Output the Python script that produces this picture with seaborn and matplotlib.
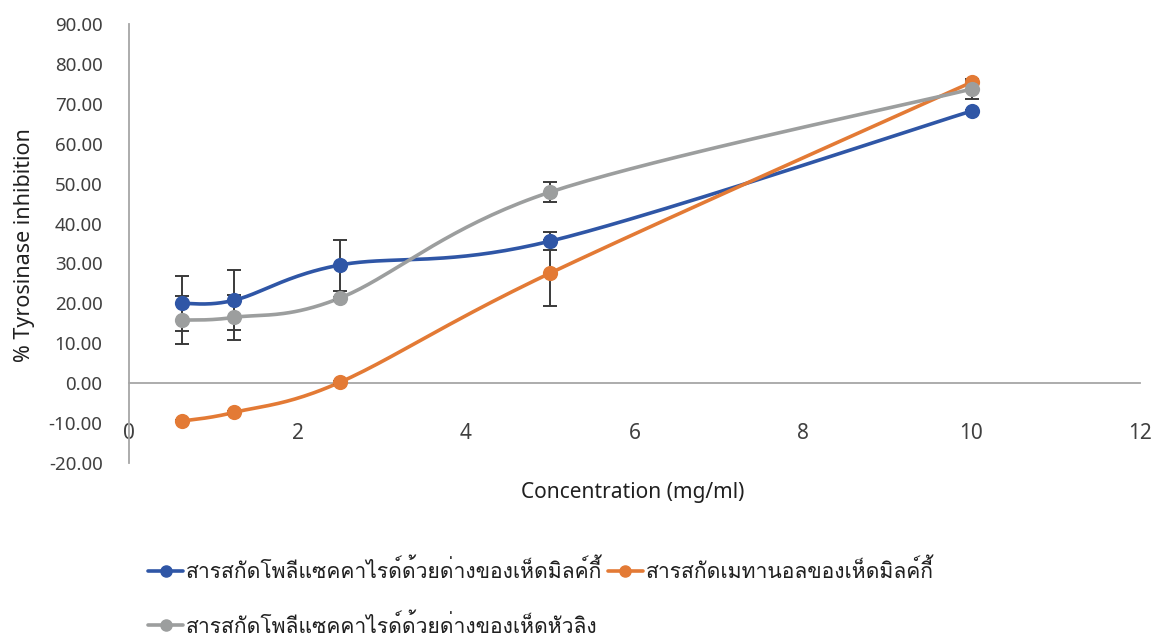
import numpy as np
import pandas as pd
import matplotlib
matplotlib.use("Agg")
import matplotlib.pyplot as plt
import seaborn as sns
from matplotlib import font_manager, ft2font
from matplotlib.lines import Line2D

# ---- data -------------------------------------------------------------
conc = [0.625, 1.25, 2.5, 5, 10]

milky_poly = [20.0, 20.8, 29.6, 35.6, 68.2]
milky_poly_err = [6.8, 7.5, 6.4, 2.3, 0.3]

milky_meoh = [-9.5, -7.3, 0.2, 27.6, 75.4]
milky_meoh_err = [0.3, 0.3, 0.3, 8.2, 0.3]

split_poly = [15.8, 16.5, 21.3, 47.9, 73.7]
split_poly_err = [6.0, 5.7, 0.4, 2.4, 2.4]

series_names = [
    "สารสกัดโพลีแซคคาไรด์ด้วยด่างของเห็ดมิลค์กี้",
    "สารสกัดเมทานอลของเห็ดมิลค์กี้",
    "สารสกัดโพลีแซคคาไรด์ด้วยด่างของเห็ดหัวลิง",
]
series_colors = ["#2F56A6", "#E37A35", "#9C9E9E"]

x_ticks = [0, 2, 4, 6, 8, 10, 12]
y_ticks = [-20, -10, 0, 10, 20, 30, 40, 50, 60, 70, 80, 90]
x_title = "Concentration (mg/ml)"
y_title = "% Tyrosinase inhibition"


# ---- helpers ----------------------------------------------------------
def thai_family():
    """Return the first installed family that carries Thai glyphs."""
    for f in font_manager.fontManager.ttflist:
        try:
            cmap = ft2font.FT2Font(f.fname).get_charmap()
        except Exception:
            continue
        if 0x0E2A in cmap and 0x0E49 in cmap and 0x0E35 in cmap:
            return f.name
    return None


def smooth_curve(xs, ys, n=40):
    """Parametric Catmull-Rom (Bezier) smoothing through the data points."""
    pts = np.column_stack([xs, ys]).astype(float)
    padded = np.vstack([pts[0], pts, pts[-1]])
    out = []
    t = np.linspace(0, 1, n)[:, None]
    for i in range(len(pts) - 1):
        p0, p1, p2, p3 = padded[i], padded[i + 1], padded[i + 2], padded[i + 3]
        c1 = p1 + (p2 - p0) / 6.0
        c2 = p2 - (p3 - p1) / 6.0
        seg = ((1 - t) ** 3) * p1 + 3 * ((1 - t) ** 2) * t * c1 \
            + 3 * (1 - t) * t ** 2 * c2 + t ** 3 * p2
        out.append(seg if i == 0 else seg[1:])
    out = np.vstack(out)
    return out[:, 0], out[:, 1]


# ---- style ------------------------------------------------------------
sns.set_theme(style="white")
thai = thai_family()
base_family = ["Noto Sans", "DejaVu Sans"]
plt.rcParams["font.family"] = base_family
legend_family = ([thai] if thai else []) + base_family
axis_grey = "#A6A6A6"
text_grey = "#404040"

fig = plt.figure(figsize=(11.56, 6.39), dpi=100)
ax = fig.add_axes([0.1116, 0.2754, 0.8746, 0.687])

# ---- marks ------------------------------------------------------------
all_series = [
    (milky_poly, milky_poly_err),
    (milky_meoh, milky_meoh_err),
    (split_poly, split_poly_err),
]
for (vals, errs), name, col in zip(all_series, series_names, series_colors):
    sx, sy = smooth_curve(conc, vals)
    curve = pd.DataFrame({"x": sx, "y": sy})
    sns.lineplot(data=curve, x="x", y="y", sort=False, estimator=None,
                 color=col, linewidth=2.6, ax=ax, zorder=3)
    ax.errorbar(conc, vals, yerr=errs, fmt="none", ecolor="#3A3A3A",
                elinewidth=1.4, capsize=5, capthick=1.4, zorder=4)
    pts = pd.DataFrame({"x": conc, "y": vals})
    sns.scatterplot(data=pts, x="x", y="y", color=col, s=120,
                    edgecolor=col, linewidth=0, ax=ax, zorder=5)

# ---- axes -------------------------------------------------------------
ax.set_xlim(0, 12)
ax.set_ylim(-20, 90)
ax.set_xticks(x_ticks)
ax.set_xticklabels([str(v) for v in x_ticks])
ax.set_yticks(y_ticks)
ax.set_yticklabels([f"{v:.2f}" for v in y_ticks])

for s in ("top", "right"):
    ax.spines[s].set_visible(False)
ax.spines["bottom"].set_position(("data", 0))
ax.spines["bottom"].set_color(axis_grey)
ax.spines["bottom"].set_linewidth(1.3)
ax.spines["left"].set_color(axis_grey)
ax.spines["left"].set_linewidth(1.3)

ax.tick_params(axis="x", length=0, pad=29, labelsize=15, labelcolor=text_grey)
ax.tick_params(axis="y", length=0, pad=19, labelsize=13.5, labelcolor=text_grey)

ax.set_xlabel(x_title, fontsize=15, color="#202020")
ax.xaxis.set_label_coords(0.498, -0.044)
ax.set_ylabel(y_title, fontsize=15.5, color="#202020")
ax.yaxis.set_label_coords(-0.093, 0.497)

# ---- legend -----------------------------------------------------------
handles = [
    Line2D([], [], color=c, linewidth=2.6, marker="o", markersize=8)
    for c in series_colors
]
order = [0, 2, 1]
leg = fig.legend(
    [handles[i] for i in order], [series_names[i] for i in order],
    loc="upper left", bbox_to_anchor=(0.119, 0.142), ncol=2,
    frameon=False, borderpad=0, handlelength=1.65, handletextpad=0.15,
    columnspacing=0.25, labelspacing=1.45,
    prop={"family": legend_family, "size": 15.2},
)
for t in leg.get_texts():
    t.set_color("#202020")

fig.savefig("out.png", dpi=100)
